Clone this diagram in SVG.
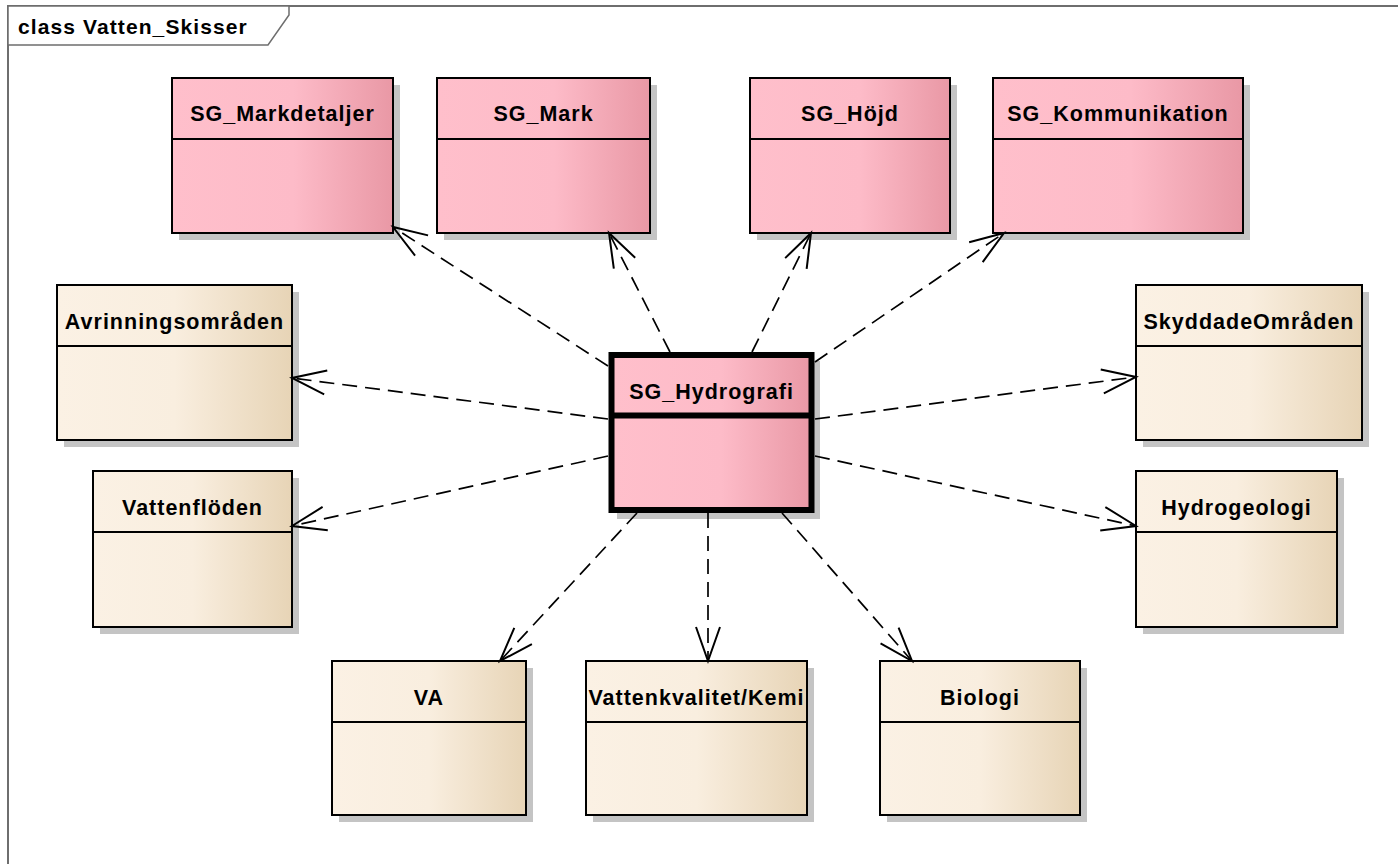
<svg xmlns="http://www.w3.org/2000/svg" width="1398" height="864" viewBox="0 0 1398 864">
<style>
.frame{fill:none;stroke:#6e6e6e;stroke-width:2}
.tab{fill:#ffffff;stroke:#6e6e6e;stroke-width:1.5}
.title{font-family:"Liberation Sans",Arial,sans-serif;font-weight:bold;font-size:21px;letter-spacing:1.1px;fill:#000}
.shadow{fill:#c4c4c4}
.pink{fill:url(#gPink);stroke:#000;stroke-width:2}
.beige{fill:url(#gBeige);stroke:#000;stroke-width:2}
.div{stroke:#000;stroke-width:2}
.main{fill:url(#gPink);stroke:#000;stroke-width:6}
.mdiv{stroke:#000;stroke-width:6}
.lbl{font-family:"Liberation Sans",Arial,sans-serif;font-weight:bold;font-size:21.5px;letter-spacing:1px;fill:#000;text-anchor:middle}
.dep{fill:none;stroke:#000;stroke-width:1.7;stroke-dasharray:15 8;marker-end:url(#open)}
</style>
<defs>
<linearGradient id="gPink" x1="0" y1="0" x2="1" y2="0">
<stop offset="0" stop-color="#FFBFCB"/>
<stop offset="0.55" stop-color="#FDBBC8"/>
<stop offset="1" stop-color="#E998A5"/>
</linearGradient>
<linearGradient id="gBeige" x1="0" y1="0" x2="1" y2="0">
<stop offset="0" stop-color="#FBF1E4"/>
<stop offset="0.5" stop-color="#F9EEDF"/>
<stop offset="1" stop-color="#E7D4B6"/>
</linearGradient>
<marker id="open" viewBox="-40 -15 42 30" markerWidth="42" markerHeight="30" refX="0" refY="0" orient="auto" markerUnits="userSpaceOnUse" overflow="visible">
<path d="M-34,-12 L0,0 L-34,12" fill="none" stroke="#000" stroke-width="2"/>
</marker>
</defs>

<g id="frame">
<path class="frame" d="M8,864 V6 H1398"/>
<path class="tab" d="M8,6 H289 V15 L268,45 H8 Z"/>
<text class="title" x="18" y="34">class Vatten_Skisser</text>
</g>

<g id="SG_Markdetaljer">
<rect class="shadow" x="179" y="85" width="221" height="155"/>
<rect class="pink" x="172" y="78" width="221" height="155"/>
<line class="div" x1="172" y1="139" x2="393" y2="139"/>
<text class="lbl" x="282.5" y="121">SG_Markdetaljer</text>
</g>
<g id="SG_Mark">
<rect class="shadow" x="444" y="85" width="213" height="155"/>
<rect class="pink" x="437" y="78" width="213" height="155"/>
<line class="div" x1="437" y1="139" x2="650" y2="139"/>
<text class="lbl" x="543.5" y="121">SG_Mark</text>
</g>
<g id="SG_Hojd">
<rect class="shadow" x="757" y="85" width="200" height="155"/>
<rect class="pink" x="750" y="78" width="200" height="155"/>
<line class="div" x1="750" y1="139" x2="950" y2="139"/>
<text class="lbl" x="850" y="121">SG_Höjd</text>
</g>
<g id="SG_Kommunikation">
<rect class="shadow" x="1000" y="85" width="250" height="155"/>
<rect class="pink" x="993" y="78" width="250" height="155"/>
<line class="div" x1="993" y1="139" x2="1243" y2="139"/>
<text class="lbl" x="1118" y="121">SG_Kommunikation</text>
</g>

<g id="Avrinningsomraden">
<rect class="shadow" x="64" y="292" width="235" height="155"/>
<rect class="beige" x="57" y="285" width="235" height="155"/>
<line class="div" x1="57" y1="346" x2="292" y2="346"/>
<text class="lbl" x="174.5" y="329">Avrinningsområden</text>
</g>
<g id="SkyddadeOmraden">
<rect class="shadow" x="1143" y="292" width="226" height="155"/>
<rect class="beige" x="1136" y="285" width="226" height="155"/>
<line class="div" x1="1136" y1="346" x2="1362" y2="346"/>
<text class="lbl" x="1249" y="329">SkyddadeOmråden</text>
</g>
<g id="Vattenfloden">
<rect class="shadow" x="100" y="478" width="199" height="156"/>
<rect class="beige" x="93" y="471" width="199" height="156"/>
<line class="div" x1="93" y1="532" x2="292" y2="532"/>
<text class="lbl" x="192.5" y="515">Vattenflöden</text>
</g>
<g id="Hydrogeologi">
<rect class="shadow" x="1143" y="478" width="201" height="156"/>
<rect class="beige" x="1136" y="471" width="201" height="156"/>
<line class="div" x1="1136" y1="532" x2="1337" y2="532"/>
<text class="lbl" x="1236.5" y="515">Hydrogeologi</text>
</g>
<g id="VA">
<rect class="shadow" x="339" y="668" width="194" height="154"/>
<rect class="beige" x="332" y="661" width="194" height="154"/>
<line class="div" x1="332" y1="722" x2="526" y2="722"/>
<text class="lbl" x="429" y="705">VA</text>
</g>
<g id="Vattenkvalitet_Kemi">
<rect class="shadow" x="593" y="668" width="221" height="154"/>
<rect class="beige" x="586" y="661" width="221" height="154"/>
<line class="div" x1="586" y1="722" x2="807" y2="722"/>
<text class="lbl" x="696.5" y="705">Vattenkvalitet/Kemi</text>
</g>
<g id="Biologi">
<rect class="shadow" x="887" y="668" width="200" height="154"/>
<rect class="beige" x="880" y="661" width="200" height="154"/>
<line class="div" x1="880" y1="722" x2="1080" y2="722"/>
<text class="lbl" x="980" y="705">Biologi</text>
</g>

<g id="SG_Hydrografi">
<rect class="shadow" x="617" y="361" width="203" height="158"/>
<rect class="main" x="611.5" y="355" width="200" height="155"/>
<line class="mdiv" x1="611.5" y1="415.5" x2="811.5" y2="415.5"/>
<text class="lbl" x="711.5" y="399">SG_Hydrografi</text>
</g>

<g id="connectors">
<line class="dep" x1="608" y1="366" x2="393" y2="227"/>
<line class="dep" x1="670" y1="352" x2="609" y2="233"/>
<line class="dep" x1="752" y1="352" x2="811" y2="233"/>
<line class="dep" x1="815" y1="362" x2="1004" y2="233"/>
<line class="dep" x1="608" y1="419" x2="292" y2="378"/>
<line class="dep" x1="608" y1="456" x2="292" y2="526"/>
<line class="dep" x1="815" y1="419" x2="1136" y2="377"/>
<line class="dep" x1="815" y1="456" x2="1136" y2="526"/>
<line class="dep" x1="637" y1="513" x2="500" y2="661"/>
<line class="dep" x1="708" y1="513" x2="708" y2="661"/>
<line class="dep" x1="782" y1="513" x2="912" y2="661"/>
</g>
</svg>
